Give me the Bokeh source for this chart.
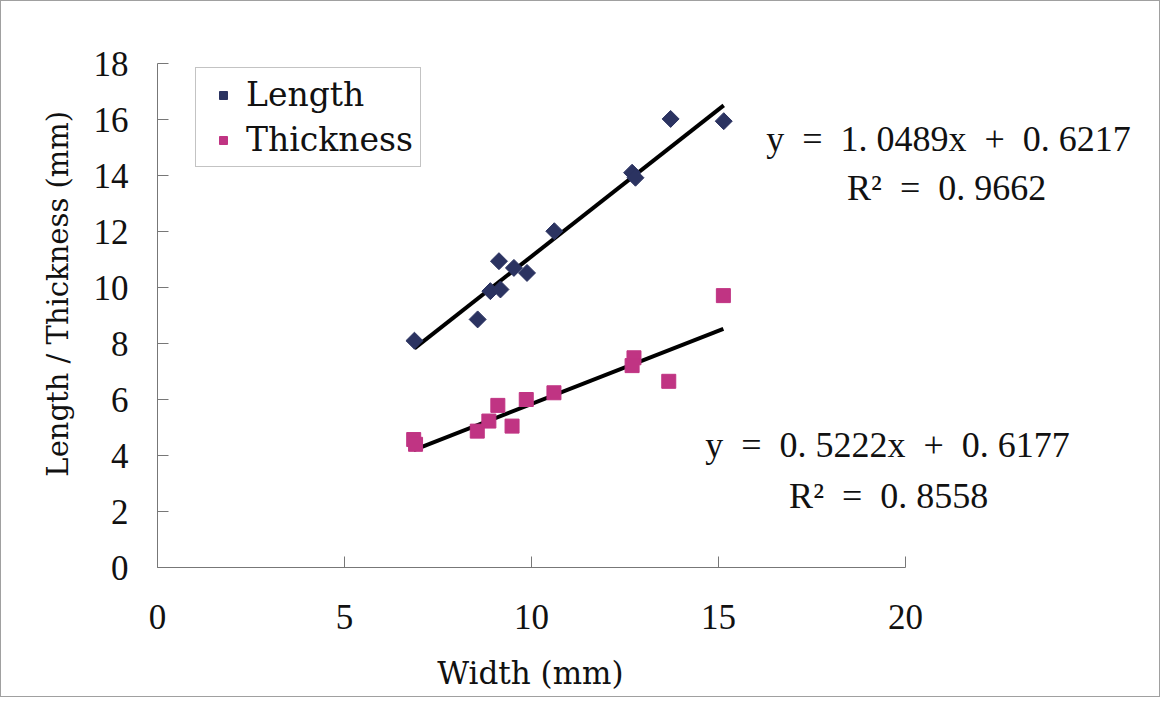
import math
from bokeh.plotting import figure
from bokeh.models import Legend, LegendItem, Label, FixedTicker
from bokeh.embed import file_html
from bokeh.resources import INLINE

# ---- data ----
length_x = [6.87, 8.56, 8.90, 9.17, 9.13, 9.53, 9.88, 10.61, 12.69, 12.78, 13.72, 15.14]
length_y = [8.10, 8.86, 9.87, 9.93, 10.94, 10.70, 10.52, 12.01, 14.10, 13.92, 16.02, 15.94]
thick_x = [6.85, 6.90, 8.55, 8.86, 9.10, 9.48, 9.86, 10.60, 12.74, 12.69, 13.67, 15.13]
thick_y = [4.57, 4.40, 4.87, 5.23, 5.79, 5.05, 6.00, 6.24, 7.49, 7.21, 6.65, 9.71]
length_fit = (1.0489, 0.6217)   # slope, intercept
thick_fit = (0.5222, 0.6177)
length_r2 = "0.9662"
thick_r2 = "0.8558"
x_ticks = [0, 5, 10, 15, 20]
y_ticks = [0, 2, 4, 6, 8, 10, 12, 14, 16, 18]

DIAMOND = "#2B3361"
SQUARE = "#C03483"
SERIF = "Liberation Serif"
TXT = "DejaVu Serif"

FIG_W, FIG_H = 1160, 697
LEFT, RIGHT, TOP = 156, 4, 62
FRAME_H = 504
PX_PER_X = 37.4
x_end = (FIG_W - LEFT - RIGHT) / PX_PER_X

p = figure(width=FIG_W, height=FIG_H, x_range=(0, x_end), y_range=(0, 18),
           output_backend="svg", toolbar_location=None,
           min_border_left=LEFT, min_border_right=RIGHT,
           min_border_top=TOP, min_border_bottom=FIG_H - TOP - FRAME_H)
p.styles = {"border": "1px solid #a0a0a0"}
p.outline_line_color = None
p.xgrid.visible = False
p.ygrid.visible = False
p.background_fill_color = "white"
p.border_fill_color = "white"

for ax in (p.xaxis[0], p.yaxis[0]):
    ax.axis_line_color = "#777777"
    ax.axis_line_width = 1
    ax.major_tick_line_color = "#777777"
    ax.major_tick_in = 11
    ax.major_tick_out = 0
    ax.minor_tick_line_color = None
    ax.major_label_text_font = SERIF
    ax.major_label_text_font_size = "35px"
    ax.major_label_text_color = "#111111"
    ax.axis_label_text_font = TXT
    ax.axis_label_text_font_style = "normal"
    ax.axis_label_text_color = "#111111"

p.xaxis.bounds = (0, 20)
p.xaxis.ticker = FixedTicker(ticks=x_ticks)
p.yaxis.ticker = FixedTicker(ticks=y_ticks)
p.xaxis.major_label_standoff = 37
p.yaxis.major_label_standoff = 29
# trailing spaces keep the title centred under the 0-20 axis (frame extends further right)
p.xaxis.axis_label = "Width (mm)" + "\u2003" * 8 + "\u2009"
p.yaxis.axis_label = "\u2002\u2002\u2002Length / Thickness (mm)"
p.xaxis.axis_label_text_font_size = "31px"
p.yaxis.axis_label_text_font_size = "29px"
p.xaxis.axis_label_standoff = 23
p.yaxis.axis_label_standoff = 16

# trend lines from the printed coefficients
def fit_line(xs, fit):
    x0, x1 = min(xs), max(xs)
    return [x0, x1], [fit[0] * x0 + fit[1], fit[0] * x1 + fit[1]]

lx, ly = fit_line(length_x, length_fit)
tx, ty = fit_line(thick_x, thick_fit)
p.line(lx, ly, line_color="black", line_width=4)
p.line(tx, ty, line_color="black", line_width=4)

r_len = p.scatter(length_x, length_y, marker="square", angle=math.pi / 4, size=12,
                  fill_color=DIAMOND, line_color=DIAMOND)
r_th = p.scatter(thick_x, thick_y, marker="square", size=14,
                 fill_color=SQUARE, line_color=SQUARE)

legend = Legend(items=[LegendItem(label="Length", renderers=[r_len]),
                       LegendItem(label="Thickness", renderers=[r_th])],
                location=(38, 400))
legend.label_text_font = TXT
legend.label_text_font_size = "33px"
legend.label_text_color = "#111111"
legend.border_line_color = "#888888"
legend.border_line_width = 1
legend.background_fill_alpha = 1
legend.padding = 7
legend.spacing = 6
legend.glyph_width = 40
legend.label_standoff = 3
legend.margin = 0
p.add_layout(legend)

def eq_text(fit):
    a = f"{fit[0]:.4f}".replace(".", ". ")
    b = f"{fit[1]:.4f}".replace(".", ". ")
    return f"y\u2002=\u2002{a}x\u2002+\u2002{b}"

def r2_text(r2):
    return "R\u00b2\u2002=\u2002" + r2.replace(".", ". ")

for x, y, t in [(21.15, 15.32, eq_text(length_fit)),
                (21.10, 13.57, r2_text(length_r2)),
                (19.52, 4.36, eq_text(thick_fit)),
                (19.55, 2.57, r2_text(thick_r2))]:
    p.add_layout(Label(x=x, y=y, text=t, text_font=SERIF, text_font_size="36px",
                       text_align="center", text_baseline="middle",
                       text_color="#111111"))

open("out.html", "w").write(file_html(p, INLINE))
